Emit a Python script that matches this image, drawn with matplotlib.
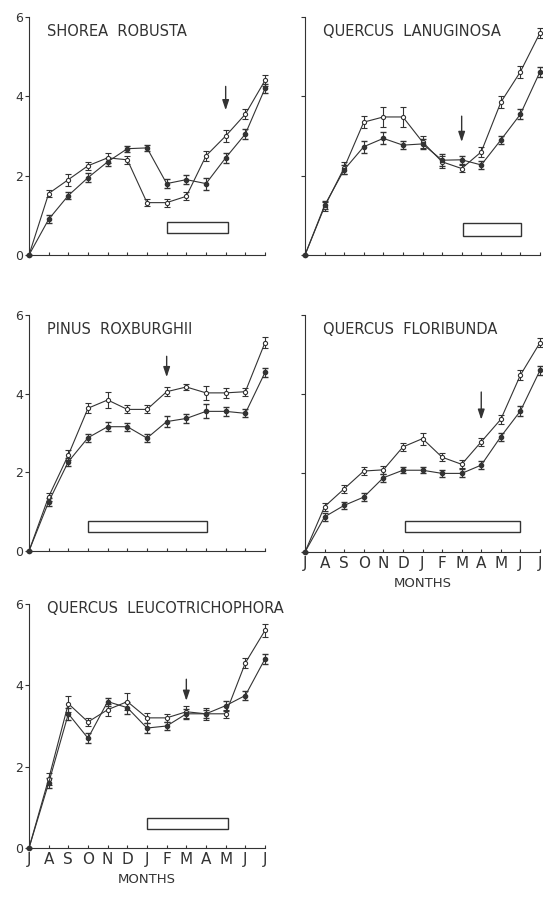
import matplotlib
matplotlib.use("Agg")
import matplotlib.pyplot as plt
from matplotlib.patches import Rectangle

months = ["J", "A", "S", "O", "N", "D", "J", "F", "M", "A", "M", "J", "J"]
x = list(range(len(months)))

# Shorea robusta
shorea_a = [0, 1.55, 1.9, 2.25, 2.45, 2.4, 1.32, 1.32, 1.48, 2.5, 3.0, 3.55, 4.4]
shorea_b = [0, 0.9, 1.5, 1.95, 2.35, 2.68, 2.7, 1.8, 1.9, 1.8, 2.45, 3.05, 4.2]
shorea_err_a = [0, 0.1, 0.15, 0.1, 0.12, 0.1, 0.08, 0.1, 0.1, 0.12, 0.15, 0.12, 0.15]
shorea_err_b = [0, 0.1, 0.1, 0.12, 0.1, 0.08, 0.08, 0.12, 0.12, 0.15, 0.12, 0.12, 0.12]

# Quercus lanuginosa
lanug_a = [0, 1.22, 2.2, 3.35, 3.48, 3.48, 2.85, 2.35, 2.18, 2.6, 3.85, 4.62, 5.6]
lanug_b = [0, 1.25, 2.15, 2.73, 2.94, 2.77, 2.8, 2.39, 2.4, 2.27, 2.9, 3.55, 4.62]
lanug_err_a = [0, 0.12, 0.15, 0.15, 0.25, 0.25, 0.15, 0.15, 0.1, 0.12, 0.15, 0.15, 0.12]
lanug_err_b = [0, 0.1, 0.12, 0.15, 0.15, 0.1, 0.12, 0.15, 0.1, 0.1, 0.1, 0.12, 0.12]

# Pinus roxburghii
pinus_a = [0, 1.38, 2.44, 3.63, 3.84, 3.6, 3.6, 4.05, 4.17, 4.02, 4.02, 4.05, 5.3]
pinus_b = [0, 1.25, 2.27, 2.88, 3.16, 3.16, 2.87, 3.29, 3.37, 3.55, 3.55, 3.5, 4.54]
pinus_err_a = [0, 0.1, 0.12, 0.12, 0.2, 0.1, 0.1, 0.12, 0.08, 0.18, 0.12, 0.1, 0.15]
pinus_err_b = [0, 0.1, 0.1, 0.1, 0.12, 0.1, 0.1, 0.15, 0.12, 0.18, 0.12, 0.1, 0.12]

# Quercus floribunda
florib_a = [0, 1.15, 1.6, 2.05, 2.08, 2.66, 2.87, 2.4, 2.22, 2.79, 3.36, 4.48, 5.3]
florib_b = [0, 0.89, 1.18, 1.39, 1.88, 2.07, 2.07, 1.99, 1.99, 2.2, 2.92, 3.57, 4.6]
florib_err_a = [0, 0.1, 0.1, 0.1, 0.1, 0.1, 0.15, 0.1, 0.1, 0.1, 0.12, 0.12, 0.12]
florib_err_b = [0, 0.1, 0.08, 0.1, 0.1, 0.08, 0.08, 0.08, 0.1, 0.1, 0.1, 0.12, 0.12]

# Quercus leucotrichophora
leuco_a = [0, 1.7, 3.55, 3.1, 3.4, 3.6, 3.2, 3.2, 3.35, 3.3, 3.3, 4.55, 5.35]
leuco_b = [0, 1.6, 3.3, 2.7, 3.6, 3.45, 2.95, 3.0, 3.3, 3.3, 3.5, 3.75, 4.65]
leuco_err_a = [0, 0.15, 0.2, 0.1, 0.15, 0.2, 0.12, 0.1, 0.15, 0.15, 0.1, 0.12, 0.15]
leuco_err_b = [0, 0.12, 0.15, 0.12, 0.1, 0.15, 0.12, 0.1, 0.12, 0.1, 0.12, 0.12, 0.12]

titles = ["SHOREA  ROBUSTA", "QUERCUS  LANUGINOSA", "PINUS  ROXBURGHII",
          "QUERCUS  FLORIBUNDA", "QUERCUS  LEUCOTRICHOPHORA"]
series = [(shorea_a, shorea_err_a, shorea_b, shorea_err_b),
          (lanug_a, lanug_err_a, lanug_b, lanug_err_b),
          (pinus_a, pinus_err_a, pinus_b, pinus_err_b),
          (florib_a, florib_err_a, florib_b, florib_err_b),
          (leuco_a, leuco_err_a, leuco_b, leuco_err_b)]
# arrow month index, arrow top and tip
arrows = [(10, 4.25, 3.65), (8, 3.5, 2.85), (7, 4.95, 4.42), (9, 4.05, 3.35), (8, 4.15, 3.62)]
# open bar: start, end month index, low, high
bars = [(7.0, 10.1, 0.55, 0.82), (8.05, 11.05, 0.48, 0.81), (3.0, 9.05, 0.48, 0.77),
        (5.1, 11.0, 0.5, 0.78), (6.0, 10.1, 0.46, 0.75)]

ink = "#333333"
W, H = 543, 899
# pixel boxes: left, right, bottom(y=0), top(y=6)
boxes = [(29, 265, 255, 17), (305, 540, 255, 17), (29, 265, 551, 315),
         (305, 540, 552, 315), (29, 265, 848, 604)]

fig = plt.figure(figsize=(W / 100, H / 100), dpi=100)

for k in range(5):
    l, r, b, t = boxes[k]
    ax = fig.add_axes([l / W, 1 - b / H, (r - l) / W, (b - t) / H])
    ya, ea, yb, eb = series[k]
    ax.errorbar(x, ya, yerr=ea, color=ink, lw=0.8, marker="o", ms=3,
                mfc="white", mec=ink, mew=0.8, elinewidth=0.8, capsize=2, clip_on=False)
    ax.errorbar(x, yb, yerr=eb, color=ink, lw=0.8, marker="o", ms=3,
                mfc=ink, mec=ink, elinewidth=0.8, capsize=2, clip_on=False)

    mi, ytop, ytip = arrows[k]
    ax.annotate("", xy=(mi, ytip), xytext=(mi, ytop),
                arrowprops=dict(arrowstyle="-|>,head_width=0.2,head_length=0.6",
                                color=ink, lw=1, mutation_scale=10,
                                shrinkA=0, shrinkB=0))
    x0, x1, y0, y1 = bars[k]
    ax.add_patch(Rectangle((x0, y0), x1 - x0, y1 - y0, facecolor="white",
                           edgecolor=ink, lw=1))

    ax.set_xlim(0, 12)
    ax.set_ylim(0, 6)
    ax.spines["top"].set_visible(False)
    ax.spines["right"].set_visible(False)
    ax.spines["left"].set_color(ink)
    ax.spines["bottom"].set_color(ink)
    ax.set_yticks([0, 2, 4, 6])
    ax.set_xticks(x)
    ax.tick_params(axis="y", direction="out", length=3, color=ink, labelsize=9,
                   labelcolor=ink, pad=1)
    ax.tick_params(axis="x", direction="in", length=2.5, color=ink, labelsize=11,
                   labelcolor=ink, pad=3)
    if k in (1, 3):
        ax.set_yticklabels([])
    if k in (3, 4):
        ax.set_xticklabels(months)
        ax.set_xlabel("MONTHS", fontsize=9.5, color=ink, labelpad=4)
    else:
        ax.set_xticklabels([])

    ty = 0.98 if k == 4 else 0.94
    ax.text(0.076, ty, titles[k], transform=ax.transAxes, fontsize=10.5,
            color=ink, va="center", ha="left", clip_on=False)

fig.savefig("out.png", dpi=100)
